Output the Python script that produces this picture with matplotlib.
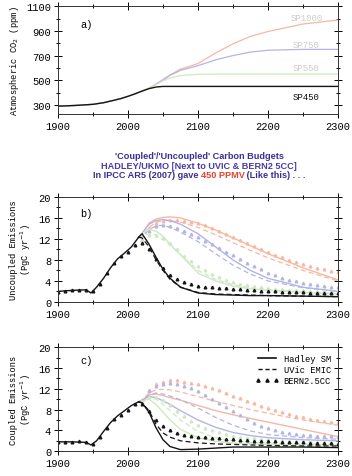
import matplotlib
matplotlib.use("Agg")
import matplotlib.pyplot as plt
from matplotlib.ticker import MultipleLocator

# ---- panel a: atmospheric CO2 (ppm) ----
years_a = [1900, 1925, 1950, 1965, 1980, 1990, 2000, 2010, 2020, 2030, 2040,
           2050, 2060, 2075, 2100, 2125, 2150, 2175, 2200, 2250, 2300]
co2_sp450 = [290, 296, 305, 318, 338, 352, 370, 390, 412, 432, 445,
             450, 450, 450, 450, 450, 450, 450, 450, 450, 450]
co2_sp550 = [290, 296, 305, 318, 338, 352, 370, 390, 413, 436, 465,
             495, 518, 538, 548, 550, 550, 550, 550, 550, 550]
co2_sp750 = [290, 296, 305, 318, 338, 352, 370, 390, 413, 437, 468,
             503, 540, 580, 618, 665, 700, 728, 743, 750, 750]
co2_sp1000 = [290, 296, 305, 318, 338, 352, 370, 390, 413, 437, 468,
              505, 543, 590, 635, 720, 795, 855, 895, 955, 988]

# ---- common year grids for panels b and c ----
hist_years = [1900, 1920, 1940, 1947, 1955, 1965, 1975, 1985, 1995, 2005, 2015]
fut_years = [2020, 2030, 2040, 2050, 2060, 2075, 2100, 2125, 2150, 2175, 2200, 2250, 2300]
tri_hist_years = [1900, 1910, 1920, 1930, 1940, 1950, 1960, 1970, 1980, 1990, 2000, 2010]
tri_fut_years = list(range(2020, 2301, 10))

# ---- panel b: uncoupled emissions (PgC/yr) ----
unc_hist = [2.0, 2.2, 2.3, 1.7, 2.8, 4.5, 6.5, 8.2, 9.3, 10.5, 12.3]
unc_hadley = {
    "SP450": [13.0, 11.0, 8.5, 6.2, 4.5, 2.8, 1.7, 1.4, 1.3, 1.2, 1.2, 1.1, 1.0],
    "SP550": [13.0, 13.8, 13.5, 12.5, 11.0, 9.0, 5.5, 4.0, 3.0, 2.5, 2.2, 1.8, 1.5],
    "SP750": [13.0, 14.8, 15.5, 15.7, 15.5, 14.8, 13.0, 10.5, 8.0, 6.0, 4.5, 2.8, 2.0],
    "SP1000": [13.0, 15.0, 15.8, 16.1, 16.2, 16.0, 15.0, 13.7, 12.2, 10.7, 9.2, 6.5, 4.2],
}
unc_uvic = {
    "SP450": [12.2, 10.5, 8.0, 6.0, 4.3, 2.8, 1.8, 1.5, 1.4, 1.3, 1.2, 1.1, 1.0],
    "SP550": [12.3, 13.0, 12.8, 12.0, 10.8, 9.0, 6.0, 4.3, 3.3, 2.7, 2.3, 1.9, 1.6],
    "SP750": [12.3, 13.8, 14.5, 14.6, 14.2, 13.3, 11.5, 9.2, 7.0, 5.3, 4.0, 2.7, 2.0],
    "SP1000": [12.3, 14.2, 15.2, 15.5, 15.5, 15.2, 14.2, 12.8, 11.3, 9.8, 8.4, 6.0, 4.0],
}
unc_tri_hist = [1.9, 2.0, 2.2, 2.3, 2.2, 2.0, 3.5, 5.5, 7.5, 8.8, 9.5, 10.8]
unc_bern = {
    "SP450": [11.2, 10.0, 8.2, 6.5, 5.2, 4.3, 3.8, 3.4, 3.1, 2.9, 2.8, 2.7, 2.6, 2.5, 2.4,
              2.3, 2.2, 2.1, 2.0, 2.0, 1.9, 1.9, 1.8, 1.8, 1.7, 1.7, 1.7, 1.6, 1.6],
    "SP550": [11.8, 12.8, 12.8, 12.2, 11.2, 10.0, 8.8, 7.8, 6.8, 6.0, 5.3, 4.7, 4.2, 3.8, 3.5,
              3.2, 3.0, 2.8, 2.7, 2.5, 2.4, 2.3, 2.2, 2.2, 2.1, 2.0, 2.0, 1.9, 1.9],
    "SP750": [11.8, 13.6, 14.4, 14.6, 14.5, 14.1, 13.6, 13.0, 12.4, 11.7, 11.0, 10.3, 9.6, 8.9, 8.2,
              7.5, 6.8, 6.2, 5.6, 5.1, 4.6, 4.2, 3.9, 3.6, 3.4, 3.2, 3.0, 2.9, 2.8],
    "SP1000": [11.8, 14.0, 15.0, 15.4, 15.6, 15.6, 15.5, 15.3, 15.0, 14.6, 14.1, 13.6, 13.0, 12.4, 11.8,
               11.2, 10.6, 10.0, 9.5, 9.0, 8.5, 8.0, 7.6, 7.2, 6.8, 6.5, 6.2, 5.9, 5.7],
}

# ---- panel c: coupled emissions (PgC/yr) ----
cpl_hist = [1.8, 1.8, 1.7, 1.2, 2.0, 3.8, 5.5, 6.8, 7.8, 8.8, 9.5]
cpl_hadley = {
    "SP450": [9.3, 7.5, 4.5, 2.2, 0.9, 0.3, 0.4, 0.6, 0.8, 0.8, 0.8, 0.8, 0.7],
    "SP550": [9.6, 10.0, 9.0, 7.5, 6.0, 4.2, 2.6, 1.9, 1.6, 1.4, 1.3, 1.2, 1.2],
    "SP750": [9.7, 10.5, 10.3, 9.7, 9.0, 7.8, 6.0, 4.6, 3.6, 3.0, 2.6, 2.2, 2.0],
    "SP1000": [9.8, 10.8, 11.0, 10.7, 10.3, 9.8, 8.8, 7.8, 7.0, 6.3, 5.6, 4.2, 2.8],
}
cpl_uvic = {
    "SP450": [9.3, 7.8, 5.2, 3.5, 2.7, 2.0, 1.6, 1.4, 1.3, 1.2, 1.1, 1.0, 1.0],
    "SP550": [9.6, 10.3, 10.0, 9.0, 7.8, 6.0, 3.8, 2.6, 2.0, 1.7, 1.5, 1.4, 1.3],
    "SP750": [9.7, 10.8, 11.2, 11.0, 10.6, 9.9, 8.3, 6.5, 5.0, 3.9, 3.2, 2.6, 2.3],
    "SP1000": [9.8, 11.2, 11.8, 11.9, 11.8, 11.4, 10.5, 9.6, 8.8, 8.0, 7.3, 6.0, 5.0],
}
cpl_tri_hist = [1.8, 1.8, 1.8, 1.9, 1.7, 1.4, 2.8, 4.5, 6.2, 7.0, 8.0, 9.0]
cpl_bern = {
    "SP450": [9.0, 7.8, 6.0, 4.8, 4.0, 3.5, 3.2, 3.0, 2.8, 2.7, 2.6, 2.5, 2.4, 2.3, 2.2,
              2.1, 2.0, 2.0, 1.9, 1.9, 1.8, 1.8, 1.7, 1.7, 1.6, 1.6, 1.5, 1.5, 1.4],
    "SP550": [9.5, 10.5, 10.5, 9.8, 8.8, 7.8, 6.8, 5.9, 5.1, 4.5, 4.0, 3.6, 3.3, 3.0, 2.8,
              2.6, 2.5, 2.4, 2.3, 2.2, 2.1, 2.0, 2.0, 1.9, 1.9, 1.8, 1.8, 1.7, 1.7],
    "SP750": [9.8, 11.5, 12.5, 13.0, 13.1, 13.0, 12.6, 12.1, 11.5, 10.8, 10.1, 9.3, 8.5, 7.7, 6.9,
              6.2, 5.5, 4.9, 4.4, 4.0, 3.7, 3.5, 3.3, 3.2, 3.1, 3.0, 2.9, 2.9, 2.8],
    "SP1000": [9.8, 11.8, 12.9, 13.4, 13.6, 13.6, 13.4, 13.2, 12.9, 12.5, 12.1, 11.7, 11.2, 10.7, 10.2,
               9.7, 9.2, 8.7, 8.3, 7.9, 7.5, 7.1, 6.8, 6.5, 6.2, 6.0, 5.8, 5.6, 5.4],
}

scenarios = ["SP1000", "SP750", "SP550", "SP450"]
colors = {"SP450": "#151515", "SP550": "#cfe8c2", "SP750": "#b4b4e6", "SP1000": "#f6b8a2"}

MONO = "Liberation Mono"
SANS = "Liberation Sans"

fig = plt.figure(figsize=(3.52, 4.77), dpi=100)
ax_a = fig.add_axes([0.165, 0.759, 0.795, 0.226])
ax_b = fig.add_axes([0.165, 0.365, 0.795, 0.220])
ax_c = fig.add_axes([0.165, 0.052, 0.795, 0.218])


def style_axes(ax):
    ax.set_xlim(1900, 2300)
    ax.xaxis.set_major_locator(MultipleLocator(100))
    ax.xaxis.set_minor_locator(MultipleLocator(50))
    ax.tick_params(which="both", direction="inout", top=True, right=True,
                   labelsize=7.5, width=0.7, pad=2)
    ax.tick_params(which="major", length=6)
    ax.tick_params(which="minor", length=3)
    for lab in ax.get_xticklabels() + ax.get_yticklabels():
        lab.set_fontfamily(MONO)
    for sp in ax.spines.values():
        sp.set_linewidth(0.7)
        sp.set_color("#333333")


# panel a
for sc, vals in [("SP1000", co2_sp1000), ("SP750", co2_sp750),
                 ("SP550", co2_sp550), ("SP450", co2_sp450)]:
    ax_a.plot(years_a, vals, color=colors[sc], lw=0.9 if sc != "SP450" else 1.0)
ax_a.set_ylim(227, 1100)
ax_a.yaxis.set_minor_locator(MultipleLocator(100))
ax_a.set_yticks([300, 500, 700, 900, 1100])
style_axes(ax_a)
ax_a.set_ylabel(r"Atmospheric CO$_2$ (ppm)", fontfamily=MONO, fontsize=6.3, labelpad=4)
ax_a.text(0.078, 0.83, "a)", transform=ax_a.transAxes, fontfamily=MONO, fontsize=7.5,
          va="center")
label_pos = {"SP1000": 1011, "SP750": 793, "SP550": 607, "SP450": 365}
for sc in scenarios:
    ax_a.text(2255, label_pos[sc], sc, fontfamily=MONO, fontsize=6.5, ha="center",
              va="center", color="#111111" if sc == "SP450" else "#cccccc")


def emission_panel(ax, hist, hadley, uvic, tri_hist, bern):
    for sc in scenarios:
        c = colors[sc]
        ax.plot(hist_years[-1:] + fut_years, hist[-1:] + hadley[sc], color=c, lw=1.0)
        ax.plot(hist_years[-1:] + fut_years, hist[-1:] + uvic[sc], color=c, lw=0.9,
                ls=(0, (4, 2.5)))
        ax.plot(tri_fut_years, bern[sc], ls="none", marker="^", ms=1.9, color=c, mec=c)
    ax.plot(hist_years, hist, color="#151515", lw=1.0)
    ax.plot(tri_hist_years, tri_hist, ls="none", marker="^", ms=1.9, color="#151515")
    ax.set_ylim(0, 20)
    ax.yaxis.set_major_locator(MultipleLocator(4))
    ax.yaxis.set_minor_locator(MultipleLocator(2))
    style_axes(ax)


emission_panel(ax_b, unc_hist, unc_hadley, unc_uvic, unc_tri_hist, unc_bern)
ax_b.set_ylabel("Uncoupled Emissions\n(PgC yr$^{-1}$)", fontfamily=MONO, fontsize=6.3,
                labelpad=4, linespacing=1.1)
ax_b.text(0.078, 0.85, "b)", transform=ax_b.transAxes, fontfamily=MONO, fontsize=7.5,
          va="center")

emission_panel(ax_c, cpl_hist, cpl_hadley, cpl_uvic, cpl_tri_hist, cpl_bern)
ax_c.set_ylabel("Coupled Emissions\n(PgC yr$^{-1}$)", fontfamily=MONO, fontsize=6.3,
                labelpad=4, linespacing=1.1)
ax_c.text(0.078, 0.875, "c)", transform=ax_c.transAxes, fontfamily=MONO, fontsize=7.5,
          va="center")

h1, = ax_c.plot([], [], color="#111111", lw=1.2)
h2, = ax_c.plot([], [], color="#111111", lw=1.0, ls=(0, (3, 2)))
h3, = ax_c.plot([], [], color="#111111", ls="none", marker="^", ms=2.3)
ax_c.legend([h1, h2, h3], ["Hadley SM", "UVic EMIC", "BERN2.5CC"], loc="upper right",
            frameon=False, prop={"family": MONO, "size": 6.3}, handlelength=2.6,
            numpoints=3, labelspacing=0.2, borderaxespad=0.4, handletextpad=0.6)

# middle caption
purple = "#3a2f96"
cap_fs = 6.6
cx = 0.566
fig.text(cx, 0.671, "'Coupled'/'Uncoupled' Carbon Budgets", ha="center", va="center",
         fontfamily=SANS, fontweight="bold", fontsize=cap_fs, color=purple)
fig.text(cx, 0.650, "HADLEY/UKMO [Next to UVIC & BERN2 5CC]", ha="center", va="center",
         fontfamily=SANS, fontweight="bold", fontsize=cap_fs, color="#4a3aa8")
pieces = [("In IPCC AR5 (2007) gave ", purple), ("450 PPMV", "#e8442c"),
          (" (Like this) . . .", purple)]
texts = [fig.text(0, 0.627, s, ha="left", va="baseline", fontfamily=SANS,
                  fontweight="bold", fontsize=cap_fs, color=c) for s, c in pieces]
fig.canvas.draw()
r = fig.canvas.get_renderer()
widths = [t.get_window_extent(r).width / fig.bbox.width for t in texts]
x = cx - sum(widths) / 2
for t, w in zip(texts, widths):
    t.set_x(x)
    x += w

fig.savefig("out.png", dpi=100)
